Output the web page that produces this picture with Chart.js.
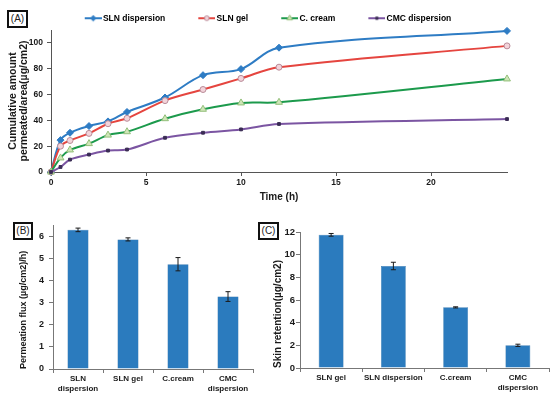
<!DOCTYPE html>
<html>
<head>
<meta charset="utf-8">
<script src="https://cdn.jsdelivr.net/npm/chart.js@4/dist/chart.umd.min.js"></script>
<style>
  body { margin: 0; background: #fff; width: 550px; height: 399px; overflow: hidden; position: relative; font-family: "Liberation Sans", Arial, sans-serif; }
  .panel { position: absolute; }
  .tag { position: absolute; border: 2px solid #111; font-size: 10px; line-height: 13px; text-align: center; color: #222; background: #fff; box-sizing: border-box; }
</style>
</head>
<body>
<div class="panel" style="left:0;top:0;width:550px;height:205px"><canvas id="permeationChart"></canvas></div>
<div class="panel" style="left:0;top:200px;width:275px;height:199px"><canvas id="fluxChart"></canvas></div>
<div class="panel" style="left:270px;top:200px;width:280px;height:199px"><canvas id="retentionChart"></canvas></div>
<div class="tag" style="left:7px;top:10px;width:21px;height:18px">(A)</div>
<div class="tag" style="left:13px;top:222px;width:20px;height:18px">(B)</div>
<div class="tag" style="left:258px;top:222px;width:21px;height:18px">(C)</div>
<script>
// panel A: cumulative amount permeated vs time
const timePoints = [0, 0.5, 1, 2, 3, 4, 6, 8, 10, 12, 24];
const slnDispersion = [0, 24.7, 30.4, 35.6, 39.2, 46.5, 57.7, 75, 79.7, 96.3, 109.3];
const slnGel = [0, 20, 24.4, 29.9, 37.4, 41.6, 55.3, 63.9, 72.5, 81.2, 97.7];
const cCream = [0, 10.9, 17.1, 22, 28.6, 31.2, 41.3, 48.6, 53.5, 54, 72.1];
const cmcDispersion = [0, 3.9, 9.6, 13.5, 16.6, 17.4, 26.5, 30.4, 33, 37.2, 41];
const seriesNames = ["SLN dispersion", "SLN gel", "C. cream", "CMC dispersion"];

// panel B: permeation flux
const fluxLabels = [["SLN", "dispersion"], "SLN gel", "C.cream", ["CMC", "dispersion"]];
const fluxValues = [6.28, 5.85, 4.73, 3.27];
const fluxErrors = [0.08, 0.07, 0.3, 0.22];

// panel C: skin retention
const retentionLabels = ["SLN gel", "SLN dispersion", "C.cream", ["CMC", "dispersion"]];
const retentionValues = [11.75, 9.0, 5.35, 2.0];
const retentionErrors = [0.12, 0.33, 0.05, 0.1];

const fontFamily = '"Liberation Sans", Arial, sans-serif';
const ink = "#1a1a1a";
const barBlue = "#2B7BBE";

const lineStyles = [
  { color: "#2E7CC4", pointStyle: "rectRot", radius: 3.5, fill: "#2E7CC4", border: "#2E7CC4" },
  { color: "#E5453F", pointStyle: "circle", radius: 3, fill: "#F3D3DA", border: "#B98C99" },
  { color: "#1C9A4C", pointStyle: "triangle", radius: 4, fill: "#CFE6B8", border: "#93BF7A" },
  { color: "#7B55A2", pointStyle: "rect", radius: 2, fill: "#3B2D55", border: "#3B2D55" },
];

// legend sample: blank left part acts as the gap between items, line + marker on the right
function legendSwatch(style) {
  const c = document.createElement("canvas");
  c.width = 42;
  c.height = 10;
  const g = c.getContext("2d");
  g.strokeStyle = style.color;
  g.lineWidth = 2;
  g.beginPath();
  g.moveTo(25, 5);
  g.lineTo(42, 5);
  g.stroke();
  g.fillStyle = style.fill;
  g.strokeStyle = style.border;
  g.lineWidth = 1;
  Chart.helpers.drawPoint(g, { pointStyle: style.pointStyle, radius: style.radius * 0.8, borderWidth: 1 }, 33.5, 5);
  return c;
}

function hideTick(maxValue) {
  return (scale) => {
    scale.ticks = scale.ticks.filter((t) => t.value !== maxValue);
  };
}

function tickFont(size) {
  return { family: fontFamily, size: size, weight: "bold" };
}

const errorBars = {
  id: "errorBars",
  afterDatasetsDraw(chart, args, opts) {
    const meta = chart.getDatasetMeta(0);
    const yScale = chart.scales.y;
    const ctx = chart.ctx;
    ctx.save();
    ctx.strokeStyle = ink;
    ctx.lineWidth = 1;
    meta.data.forEach((bar, i) => {
      const v = chart.data.datasets[0].data[i];
      const e = opts.errors[i];
      const top = yScale.getPixelForValue(v + e);
      const bottom = yScale.getPixelForValue(v - e);
      ctx.beginPath();
      ctx.moveTo(bar.x, top);
      ctx.lineTo(bar.x, bottom);
      ctx.moveTo(bar.x - 2.5, top);
      ctx.lineTo(bar.x + 2.5, top);
      ctx.moveTo(bar.x - 2.5, bottom);
      ctx.lineTo(bar.x + 2.5, bottom);
      ctx.stroke();
    });
    ctx.restore();
  },
};

function initPermeationChart() {
  const ctx = document.getElementById("permeationChart");
  const seriesValues = [slnDispersion, slnGel, cCream, cmcDispersion];
  const swatches = lineStyles.map(legendSwatch);

  new Chart(ctx, {
    type: "line",
    data: {
      datasets: seriesValues.map((values, i) => ({
        label: seriesNames[i],
        data: values.map((y, j) => ({ x: timePoints[j], y: y })),
        borderColor: lineStyles[i].color,
        borderWidth: 2,
        tension: 0.35,
        pointStyle: lineStyles[i].pointStyle,
        pointRadius: lineStyles[i].radius,
        pointBackgroundColor: lineStyles[i].fill,
        pointBorderColor: lineStyles[i].border,
        pointBorderWidth: 1,
        clip: false,
      })).reverse(),
    },
    options: {
      animation: false,
      maintainAspectRatio: false,
      layout: { padding: { left: 7, right: 43, top: 3, bottom: 0 } },
      plugins: {
        tooltip: { enabled: false },
        legend: {
          maxHeight: 27,
          labels: {
            usePointStyle: true,
            pointStyleWidth: 36,
            padding: 11,
            color: ink,
            font: tickFont(8.5),
            generateLabels: () => seriesNames.map((name, i) => ({
              text: name,
              pointStyle: swatches[i],
              fillStyle: lineStyles[i].color,
              strokeStyle: lineStyles[i].color,
              lineWidth: 0,
              hidden: false,
              datasetIndex: 3 - i,
            })),
          },
        },
      },
      scales: {
        x: {
          type: "linear",
          min: 0,
          max: 24,
          afterBuildTicks: hideTick(24),
          afterFit: (scale) => { scale.height = 33; },
          ticks: { stepSize: 5, color: ink, font: tickFont(8.5), padding: 2 },
          grid: { display: true, drawOnChartArea: false, tickLength: 4, color: "#555" },
          border: { display: true, color: "#555", width: 1 },
          title: { display: true, text: "Time (h)", color: ink, font: tickFont(10), padding: { top: 0, bottom: 2 } },
        },
        y: {
          min: 0,
          max: 110,
          afterBuildTicks: hideTick(110),
          afterFit: (scale) => { scale.width = 44; },
          ticks: { stepSize: 20, color: ink, font: tickFont(8.5), padding: 4 },
          grid: { display: true, drawOnChartArea: false, tickLength: 4, color: "#555" },
          border: { display: true, color: "#555", width: 1 },
          title: {
            display: true,
            text: ["Cumulative amount", "permeated/area(µg/cm2)"],
            color: ink,
            font: { family: fontFamily, size: 10.5, weight: "bold", lineHeight: 1.1 },
            padding: 0,
          },
        },
      },
    },
  });
}

function initBarChart(canvasId, labels, values, errors, opts) {
  new Chart(document.getElementById(canvasId), {
    type: "bar",
    data: {
      labels: labels,
      datasets: [{
        data: values,
        backgroundColor: barBlue,
        borderColor: "#2469A3",
        borderWidth: 0.5,
        categoryPercentage: 1,
        barPercentage: opts.barPercentage,
      }],
    },
    plugins: [errorBars],
    options: {
      animation: false,
      maintainAspectRatio: false,
      layout: { padding: opts.padding },
      plugins: {
        legend: { display: false },
        tooltip: { enabled: false },
        errorBars: { errors: errors },
      },
      scales: {
        x: {
          afterFit: (scale) => { scale.height = opts.xHeight; },
          ticks: { color: ink, font: tickFont(8), padding: 1, maxRotation: 0, autoSkip: false },
          grid: { display: true, drawOnChartArea: false, offset: true, tickLength: 4, color: "#777" },
          border: { display: true, color: "#777", width: 1 },
        },
        y: {
          min: 0,
          max: opts.max,
          afterBuildTicks: opts.hideMax ? hideTick(opts.max) : undefined,
          afterFit: (scale) => { scale.width = opts.yWidth; },
          ticks: { stepSize: opts.step, color: ink, font: tickFont(opts.tickSize), padding: opts.tickPadding },
          grid: { display: true, drawOnChartArea: false, tickLength: 4, color: "#777" },
          border: { display: true, color: "#777", width: 1 },
          title: {
            display: true,
            text: opts.title,
            align: "start",
            color: ink,
            font: tickFont(opts.titleSize),
            padding: { top: opts.titlePad, bottom: 0 },
          },
        },
      },
    },
  });
}

initPermeationChart();

initBarChart("fluxChart", fluxLabels, fluxValues, fluxErrors, {
  barPercentage: 0.42,
  padding: { left: 16, right: 22, top: 25, bottom: 0 },
  xHeight: 30,
  yWidth: 37,
  max: 6.5,
  hideMax: true,
  step: 1,
  tickSize: 9,
  tickPadding: 5,
  title: "Permeation flux (µg/cm2)/h)",
  titleSize: 9,
  titlePad: 2,
});

initBarChart("retentionChart", retentionLabels, retentionValues, retentionErrors, {
  barPercentage: 0.4,
  padding: { left: 0, right: 1, top: 32, bottom: 0 },
  xHeight: 31,
  yWidth: 30,
  max: 12,
  hideMax: false,
  step: 2,
  tickSize: 9.5,
  tickPadding: 1,
  title: "Skin retention(µg/cm2)",
  titleSize: 10,
  titlePad: 2,
});
</script>
</body>
</html>
